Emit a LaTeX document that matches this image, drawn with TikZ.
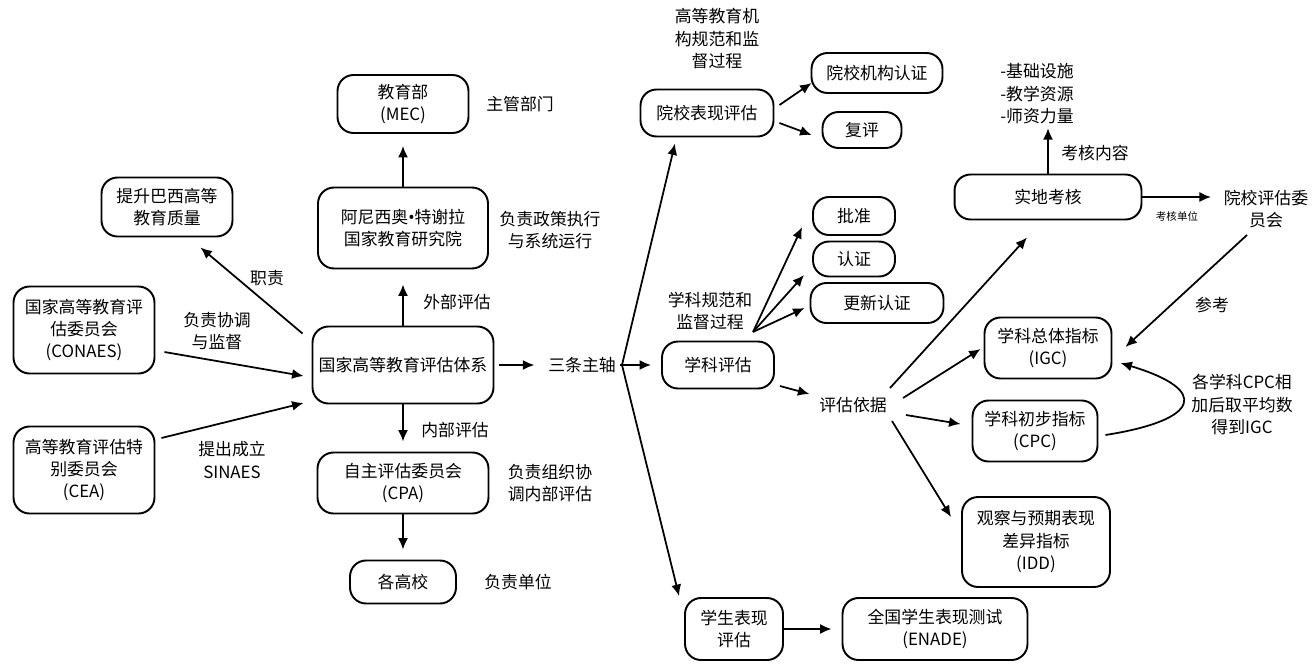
\documentclass[tikz,border=0pt]{standalone}
\usepackage{fontspec}
\setmainfont{Noto Sans CJK SC}
\newfontfamily\latinfont{Noto Sans}
\usetikzlibrary{
    positioning,
    arrows.meta
}

\begin{document}
\begin{tikzpicture}[
    x=0.02cm, y=-0.02cm,
    font=\fontsize{9.6}{12.8}\selectfont,
    box/.style={
        rectangle,
        rounded corners=0.32cm,
        draw,
        line width=1.1pt,
        align=center,
        inner sep=2pt
    },
    note/.style={align=center, inner sep=2pt},
    arrow/.style={-{Latex[length=2.3mm, width=2mm]}, line width=1pt}
]
\useasboundingbox (0,0) rectangle (1314,666);

\node[box, minimum width=2.62cm, minimum height=1.18cm] (goal) at (167,207) {提升巴西高等\\教育质量};
\node[box, minimum width=2.82cm, minimum height=1.74cm] (conaes) at (84,330) {国家高等教育评\\估委员会\\(CONAES)};
\node[box, minimum width=2.82cm, minimum height=1.74cm] (cea) at (84,470) {高等教育评估特\\别委员会\\(CEA)};
\node[box, minimum width=3.62cm, minimum height=1.54cm] (sinaes) at (403,365) {国家高等教育评估体系};
\node[box, minimum width=3.40cm, minimum height=1.62cm] (inep) at (403,228) {阿尼西奥{\latinfont •}特谢拉\\国家教育研究院};
\node[box, minimum width=2.62cm, minimum height=1.16cm] (mec) at (403,104) {教育部\\(MEC)};
\node[box, minimum width=3.42cm, minimum height=1.22cm] (cpa) at (403,483) {自主评估委员会\\(CPA)};
\node[box, minimum width=2.12cm, minimum height=0.86cm] (ies) at (403,582) {各高校};

\node[note] (duty) at (267,278) {职责};
\node[note] (coord) at (217,331) {负责协调\\与监督};
\node[note] (propose) at (232,460) {提出成立\\SINAES};
\node[note, right=0.26cm of mec] (mecnote) {主管部门};
\node[note] (inepnote) at (550,230) {负责政策执行\\与系统运行};
\node[note] (external) at (457,302) {外部评估};
\node[note] (internal) at (455,430) {内部评估};
\node[note] (cpanote) at (550,483) {负责组织协\\调内部评估};
\node[note, right=0.47cm of ies] (iesnote) {负责单位};
\node[note] (axes) at (582,365) {三条主轴};
\coordinate (hub) at (622,365);

\node[note] (instnote) at (717,39) {高等教育机\\构规范和监\\督过程};
\node[box, minimum width=2.66cm, minimum height=0.94cm] (institution) at (707,113) {院校表现评估};
\node[box, minimum width=2.62cm, minimum height=0.80cm] (accred) at (877,73) {院校机构认证};
\node[box, minimum width=1.58cm, minimum height=0.72cm] (review) at (862,130) {复评};
\node[note] (coursenote) at (710,311) {学科规范和\\监督过程};
\node[box, minimum width=1.64cm, minimum height=0.76cm] (approve) at (854,216) {批准};
\node[box, minimum width=1.64cm, minimum height=0.70cm] (certify) at (854,259) {认证};
\node[box, minimum width=2.66cm, minimum height=0.80cm] (renew) at (877,303) {更新认证};
\node[box, minimum width=2.24cm, minimum height=0.94cm] (course) at (718,365) {学科评估};
\node[note] (basis) at (853,405) {评估依据};
\node[box, minimum width=1.96cm, minimum height=1.24cm] (student) at (734,629) {学生表现\\评估};
\node[box, minimum width=3.70cm, minimum height=1.24cm] (enade) at (935,629) {全国学生表现测试\\(ENADE)};

\node[note, align=left] (items) at (1037,94) {-基础设施\\-教学资源\\-师资力量};
\node[note] (content) at (1095,153) {考核内容};
\node[box, minimum width=3.74cm, minimum height=0.90cm] (visit) at (1048,197) {实地考核};
\node[note, font=\fontsize{6}{7}\selectfont] (unit) at (1177,216) {考核单位};
\node[note] (committee) at (1266,209) {院校评估委\\员会};
\node[note] (refer) at (1212,305) {参考};
\node[box, minimum width=2.54cm, minimum height=1.22cm] (igc) at (1048,348) {学科总体指标\\(IGC)};
\node[box, minimum width=2.50cm, minimum height=1.22cm] (cpc) at (1035,431) {学科初步指标\\(CPC)};
\node[box, minimum width=2.96cm, minimum height=1.80cm] (idd) at (1036,542) {观察与预期表现\\差异指标\\(IDD)};
\node[note] (average) at (1242,405) {各学科CPC相\\加后取平均数\\得到IGC};

\draw[arrow] ([shift={(-9,8)}]sinaes.north west) -- ([shift={(-33,10)}]goal.south east);
\draw[arrow] ([shift={(9,22)}]conaes.east) -- ([shift={(-8,11)}]sinaes.west);
\draw[arrow] ([shift={(6,-32)}]cea.east) -- ([shift={(-8,38)}]sinaes.west);
\draw[arrow] (sinaes.north) -- ([shift={(0,15)}]inep.south);
\draw[arrow] (inep.north) -- ([shift={(0,12)}]mec.south);
\draw[arrow] (sinaes.south) -- ([shift={(0,-10)}]cpa.north);
\draw[arrow] (cpa.south) -- ([shift={(0,-10)}]ies.north);
\draw[arrow] ([shift={(5,0)}]sinaes.east) -- ([shift={(-10,0)}]axes.west);

\draw[line width=1pt] (axes.east) -- (hub);
\draw[arrow] (hub) -- ([shift={(-32,6)}]institution.south);
\draw[arrow] (hub) -- ([shift={(-10,0)}]course.west);
\draw[arrow] (hub) -- ([shift={(-5,-1)}]student.north west);

\draw[arrow] ([shift={(5,-8)}]institution.east) -- ([shift={(1,10)}]accred.west);
\draw[arrow] ([shift={(5,10)}]institution.east) -- ([shift={(-10,5)}]review.west);
\draw[arrow] ([shift={(-3,-2)}]coursenote.south east) -- ([shift={(-10,11)}]approve.west);
\draw[arrow] ([shift={(-3,-2)}]coursenote.south east) -- ([shift={(-8,16)}]certify.west);
\draw[arrow] ([shift={(-3,-2)}]coursenote.south east) -- ([shift={(-5,5)}]renew.west);
\draw[arrow] ([shift={(5,21)}]course.east) -- ([shift={(-6,-11)}]basis.west);
\draw[arrow] (student) -- ([shift={(-10,0)}]enade.west);

\draw[arrow] ([shift={(37,-17)}]basis.center) -- ([shift={(-21,17)}]visit.south);
\draw[arrow] ([shift={(50,-7)}]basis.center) -- ([shift={(-3,1)}]igc.west);
\draw[arrow] ([shift={(53,10)}]basis.center) -- ([shift={(-11,-7)}]cpc.west);
\draw[arrow] ([shift={(39,16)}]basis.center) -- ([shift={(-10,21)}]idd.north west);

\draw[arrow] (visit.north) -- (visit.north |- items.south);
\draw[arrow] (visit.east) -- ([shift={(-9,-12)}]committee.west);
\draw[arrow] ([shift={(-19,3)}]committee.south) -- ([shift={(13,-1)}]igc.east);
\draw[arrow] ([shift={(7,4)}]cpc.east) .. controls +(95,-15) and +(90,27) .. ([shift={(8,15)}]igc.east);

\end{tikzpicture}
\end{document}
